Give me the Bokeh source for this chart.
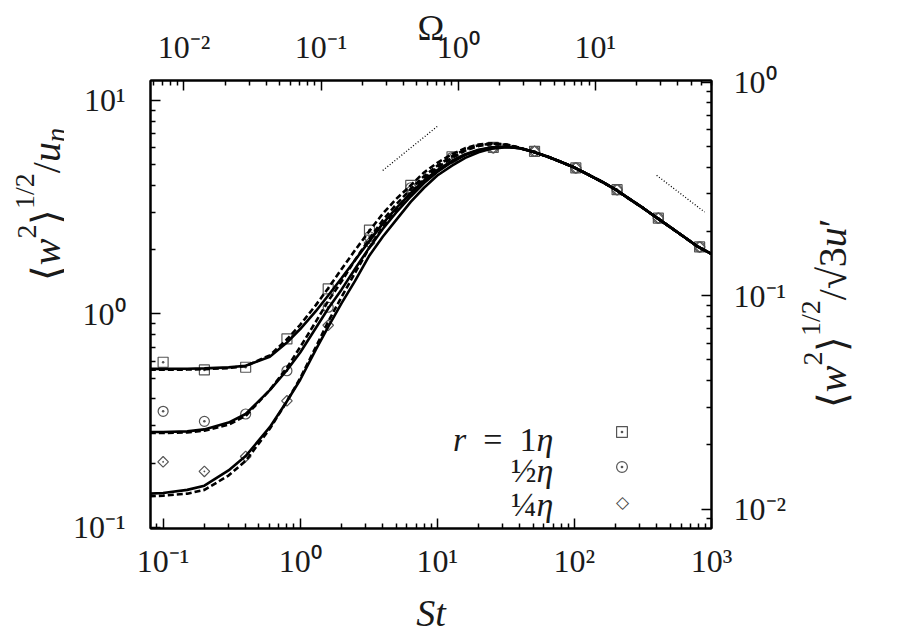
import math
from bokeh.plotting import figure
from bokeh.layouts import row
from bokeh.models import (Range1d, LogAxis, LogScale, FixedTicker, CustomJSTickFormatter,
                          Label, Legend, LegendItem)
from bokeh.embed import file_html
from bokeh.resources import INLINE

# ---------------- data ----------------
st_curve = [0.08, 0.1, 0.15, 0.2, 0.3, 0.4, 0.6, 0.8, 1.0, 1.3, 1.6, 2.0, 2.5, 3.2, 4.0, 5.0,
            6.4, 8.0, 10, 12.8, 16, 20, 25, 32, 40, 50, 64, 80, 100, 130, 160, 200, 250,
            320, 400, 500, 640, 800, 1000]

r1_solid = [0.553, 0.553, 0.554, 0.556, 0.562, 0.572, 0.63, 0.735, 0.85, 1.03, 1.22, 1.47, 1.78,
            2.2, 2.65, 3.12, 3.68, 4.22, 4.72, 5.22, 5.6, 5.88, 6.03, 6.07, 5.97,
            5.75, 5.45, 5.15, 4.85, 4.45, 4.15, 3.82, 3.47, 3.12, 2.82, 2.55, 2.28, 2.06, 1.91]
r1_dashed = [0.548, 0.548, 0.549, 0.551, 0.558, 0.570, 0.64, 0.76, 0.89, 1.10, 1.32, 1.62, 1.98,
             2.45, 2.95, 3.45, 4.0, 4.6, 5.1, 5.6, 5.98, 6.22, 6.3, 6.22, 6.0,
             5.75, 5.45, 5.15, 4.85, 4.45, 4.15, 3.82, 3.47, 3.12, 2.82, 2.55, 2.28, 2.06, 1.91]
r2_solid = [0.280, 0.280, 0.282, 0.288, 0.31, 0.34, 0.44, 0.545, 0.66, 0.86, 1.06, 1.30, 1.62,
            2.05, 2.5, 2.98, 3.55, 4.1, 4.62, 5.15, 5.55, 5.85, 6.02, 6.07, 5.97,
            5.75, 5.45, 5.15, 4.85, 4.45, 4.15, 3.82, 3.47, 3.12, 2.82, 2.55, 2.28, 2.06, 1.91]
r2_dashed = [0.277, 0.277, 0.279, 0.284, 0.303, 0.333, 0.44, 0.56, 0.70, 0.92, 1.15, 1.42, 1.78,
             2.25, 2.75, 3.25, 3.85, 4.42, 4.95, 5.48, 5.9, 6.17, 6.28, 6.2, 5.99,
             5.75, 5.45, 5.15, 4.85, 4.45, 4.15, 3.82, 3.47, 3.12, 2.82, 2.55, 2.28, 2.06, 1.91]
r4_solid = [0.144, 0.145, 0.150, 0.157, 0.185, 0.216, 0.295, 0.39, 0.492, 0.68, 0.87, 1.12, 1.42,
            1.88, 2.3, 2.75, 3.35, 3.9, 4.45, 4.95, 5.38, 5.72, 5.95, 6.04, 5.97,
            5.75, 5.45, 5.15, 4.85, 4.45, 4.15, 3.82, 3.47, 3.12, 2.82, 2.55, 2.28, 2.06, 1.91]
r4_dashed = [0.140, 0.141, 0.144, 0.150, 0.175, 0.205, 0.29, 0.39, 0.50, 0.70, 0.92, 1.2, 1.55,
             2.05, 2.55, 3.08, 3.7, 4.3, 4.85, 5.38, 5.82, 6.12, 6.26, 6.2, 5.99,
             5.75, 5.45, 5.15, 4.85, 4.45, 4.15, 3.82, 3.47, 3.12, 2.82, 2.55, 2.28, 2.06, 1.91]

st_pts = [0.1, 0.2, 0.4, 0.8, 1.6, 3.2, 6.4, 12.8, 25.6, 51.2, 102.4, 204.8, 409.6, 819.2]
r1_pts = [0.594, 0.547, 0.563, 0.764, 1.31, 2.47, 4.0, 5.45, 6.03, 5.78, 4.83, 3.82, 2.81, 2.06]
r2_pts = [0.350, 0.314, 0.340, 0.542, 1.075, 2.3, 3.9, 5.4, 6.0, 5.78, 4.83, 3.82, 2.81, 2.06]
r4_pts = [0.203, 0.183, 0.215, 0.392, 0.885, 2.15, 3.8, 5.35, 6.0, 5.78, 4.83, 3.82, 2.81, 2.06]

slope_lo_st = [4.0, 10.0]
slope_lo_val = [4.7, 7.56]
slope_hi_st = [398, 891]
slope_hi_val = [4.46, 3.0]

x_ticks_st = [0.1, 1, 10, 100, 1000]
y_ticks_left = [0.1, 1, 10]
x_ticks_omega = [0.01, 0.1, 1, 10]
y_ticks_right = [0.01, 0.1, 1]

# ---------------- ranges / scaling ----------------
ST_MIN, ST_MAX = 0.0809, 1000.0
Y_MIN, Y_MAX = 0.0989, 12.4
OMEGA_PER_ST = 1 / 14.2
RIGHT_PER_LEFT = 0.0821

SERIF = "Liberation Serif"
INK = "#1a1a1a"
H = 636

p = figure(width=736, height=H, x_axis_type="log", y_axis_type="log",
           x_range=Range1d(ST_MIN, ST_MAX), y_range=Range1d(Y_MIN, Y_MAX),
           output_backend="svg", toolbar_location=None,
           min_border_left=86, min_border_right=89, min_border_top=80,
           min_border_bottom=H - 529)
p.grid.visible = False
p.outline_line_color = "black"
p.outline_line_width = 2
p.background_fill_color = "white"
p.border_fill_color = "white"

p.extra_x_ranges = {"omega": Range1d(ST_MIN * OMEGA_PER_ST, ST_MAX * OMEGA_PER_ST)}
p.extra_x_scales = {"omega": LogScale()}
p.extra_y_ranges = {"right": Range1d(Y_MIN * RIGHT_PER_LEFT, Y_MAX * RIGHT_PER_LEFT)}
p.extra_y_scales = {"right": LogScale()}

fmt_code = """
const s = {'0':'\u2070','1':'\u00b9','2':'\u00b2','3':'\u00b3','4':'\u2074','5':'\u2075',
           '6':'\u2076','7':'\u2077','8':'\u2078','9':'\u2079','-':'\u207b'};
const e = Math.round(Math.log10(tick));
return '10' + String(e).split('').map(c => s[c]).join('');
"""


def minors(lo, hi):
    out = []
    for e in range(int(math.floor(math.log10(lo))) - 1, int(math.ceil(math.log10(hi))) + 1):
        for k in range(2, 10):
            v = k * 10 ** e
            if lo <= v <= hi:
                out.append(v)
    return out


def style(ax, majors, lo, hi, standoff):
    ax.ticker = FixedTicker(ticks=majors, minor_ticks=minors(lo, hi))
    ax.formatter = CustomJSTickFormatter(code=fmt_code)
    ax.axis_line_width = 2
    ax.axis_line_color = "black"
    ax.major_tick_in = 10
    ax.major_tick_out = 0
    ax.minor_tick_in = 5
    ax.minor_tick_out = 0
    ax.major_tick_line_width = 1.5
    ax.minor_tick_line_width = 1.5
    ax.major_tick_line_color = "black"
    ax.minor_tick_line_color = "black"
    ax.major_label_text_font = SERIF
    ax.major_label_text_font_size = "32px"
    ax.major_label_text_color = INK
    ax.major_label_standoff = standoff
    ax.axis_label_text_font = SERIF
    ax.axis_label_text_color = INK


style(p.xaxis[0], x_ticks_st, ST_MIN, ST_MAX, 14)
p.xaxis[0].axis_label = "St"
p.xaxis[0].axis_label_text_font_style = "italic"
p.xaxis[0].axis_label_text_font_size = "38px"
p.xaxis[0].axis_label_standoff = 10

style(p.yaxis[0], y_ticks_left, Y_MIN, Y_MAX, 25)

top_ax = LogAxis(x_range_name="omega")
style(top_ax, x_ticks_omega, ST_MIN * OMEGA_PER_ST, ST_MAX * OMEGA_PER_ST, 16)
top_ax.axis_label = "\u03a9"
top_ax.axis_label_text_font_style = "normal"
top_ax.axis_label_text_font_size = "36px"
top_ax.axis_label_standoff = -22
p.add_layout(top_ax, "above")

right_ax = LogAxis(y_range_name="right")
style(right_ax, y_ticks_right, Y_MIN * RIGHT_PER_LEFT, Y_MAX * RIGHT_PER_LEFT, 22)
p.add_layout(right_ax, "right")

# ---------------- markers ----------------
MK = "#555555"
sq = p.scatter(st_pts, r1_pts, marker="square_dot", size=10, fill_color=None,
               line_color=MK, line_width=1.2)
ci = p.scatter(st_pts, r2_pts, marker="circle_dot", size=10, fill_color=None,
               line_color=MK, line_width=1.2)
di = p.scatter(st_pts, r4_pts, marker="square_dot", size=7.5, angle=math.pi / 4,
               fill_color=None, line_color=MK, line_width=1.2)

# ---------------- curves ----------------
for ys in (r1_dashed, r2_dashed, r4_dashed):
    p.line(st_curve, ys, line_color="black", line_width=2.6, line_dash="6 3")
for ys in (r1_solid, r2_solid, r4_solid):
    p.line(st_curve, ys, line_color="black", line_width=2.6)

p.line(slope_lo_st, slope_lo_val, line_color="black", line_width=1.3, line_dash="1 2")
p.line(slope_hi_st, slope_hi_val, line_color="black", line_width=1.3, line_dash="1 2")

# ---------------- legend (markers) ----------------
legend = Legend(items=[LegendItem(label=" ", renderers=[sq]),
                       LegendItem(label=" ", renderers=[ci])],
                location=(458, 48), glyph_width=27, glyph_height=27, spacing=8,
                padding=0, margin=0, label_standoff=0, label_width=0, label_height=0,
                label_text_font_size="1px", border_line_color=None,
                background_fill_alpha=0)
p.add_layout(legend)
p.add_layout(Label(x=472, y=27, x_units="screen", y_units="screen", text="\u25c7",
                   text_font="DejaVu Sans", text_font_size="17px", text_color="#444444",
                   text_align="center", text_baseline="middle"))

# ---------------- composed texts ----------------
W_REG = {"/": 0.278, "=": 0.564, " ": 0.25, "\u2002": 0.5, "\u27e8": 0.39, "\u27e9": 0.39,
         "\u221a": 0.549, "\u2032": 0.25, "\u03a9": 0.768, "\u00bd": 0.75, "\u00bc": 0.75}
W_IT = {"w": 0.667, "u": 0.5, "r": 0.389, "S": 0.5, "t": 0.278, "\u03b7": 0.5}


def width(text, size, italic):
    table = W_IT if italic else W_REG
    return sum(table.get(c, 0.5) for c in text) * size


def compose(fig, pieces, x0, y0, angle=0.0, align="left"):
    total = sum(width(t, s, it) for t, s, it, _ in pieces)
    pos = {"left": 0.0, "center": -total / 2, "right": -total}[align]
    for text, size, italic, rise in pieces:
        if angle == 0:
            x, y = x0 + pos, y0 + rise
        else:
            x, y = x0 - rise, y0 + pos
        fig.add_layout(Label(x=x, y=y, x_units="screen", y_units="screen", text=text,
                             angle=angle, text_font=SERIF, text_font_size=f"{size}px",
                             text_font_style="italic" if italic else "normal",
                             text_color=INK, text_align="left", text_baseline="alphabetic"))
        pos += width(text, size, italic)


L = 34
compose(p, [("r", L, True, 0), ("\u2002=\u20021", L, False, 0), ("\u03b7", L, True, 0)],
        403, 89, align="right")
compose(p, [("\u00bd", L, False, 0), ("\u03b7", L, True, 0)], 403, 58, align="right")
compose(p, [("\u00bc", L, False, 0), ("\u03b7", L, True, 0)], 403, 24, align="right")


def strip(w):
    s = figure(width=w, height=H, x_range=Range1d(0, w), y_range=Range1d(0, H),
               output_backend="svg", toolbar_location=None, min_border=0,
               x_axis_location=None, y_axis_location=None)
    s.grid.visible = False
    s.outline_line_color = None
    s.background_fill_color = "white"
    s.border_fill_color = "white"
    return s


left_strip = strip(64)
right_strip = strip(105)

F = 40
FS = 28
left_title = [("\u27e8", F, False, 0), ("w", F, True, 0), ("2", FS, False, 0.5 * F),
              ("\u27e9", F, False, 0), ("1/2", FS, False, 0.55 * F), ("/", F, False, 0),
              ("u", F, True, 0), ("\u03b7", FS, True, -0.22 * F)]
right_title = [("\u27e8", F, False, 0), ("w", F, True, 0), ("2", FS, False, 0.5 * F),
               ("\u27e9", F, False, 0), ("1/2", FS, False, 0.55 * F), ("/", F, False, 0),
               ("\u221a", F, False, 0), ("3", F, False, 0), ("u", F, True, 0),
               ("\u2032", F, False, 0)]
# strip frames are aligned with the main frame (bottom edge at y = 529 px)
compose(left_strip, left_title, 46, 529 - 205, angle=math.pi / 2, align="center")
compose(right_strip, right_title, 32, 529 - 313, angle=math.pi / 2, align="center")

layout = row(left_strip, p, right_strip)
open("out.html", "w").write(file_html(layout, INLINE))
